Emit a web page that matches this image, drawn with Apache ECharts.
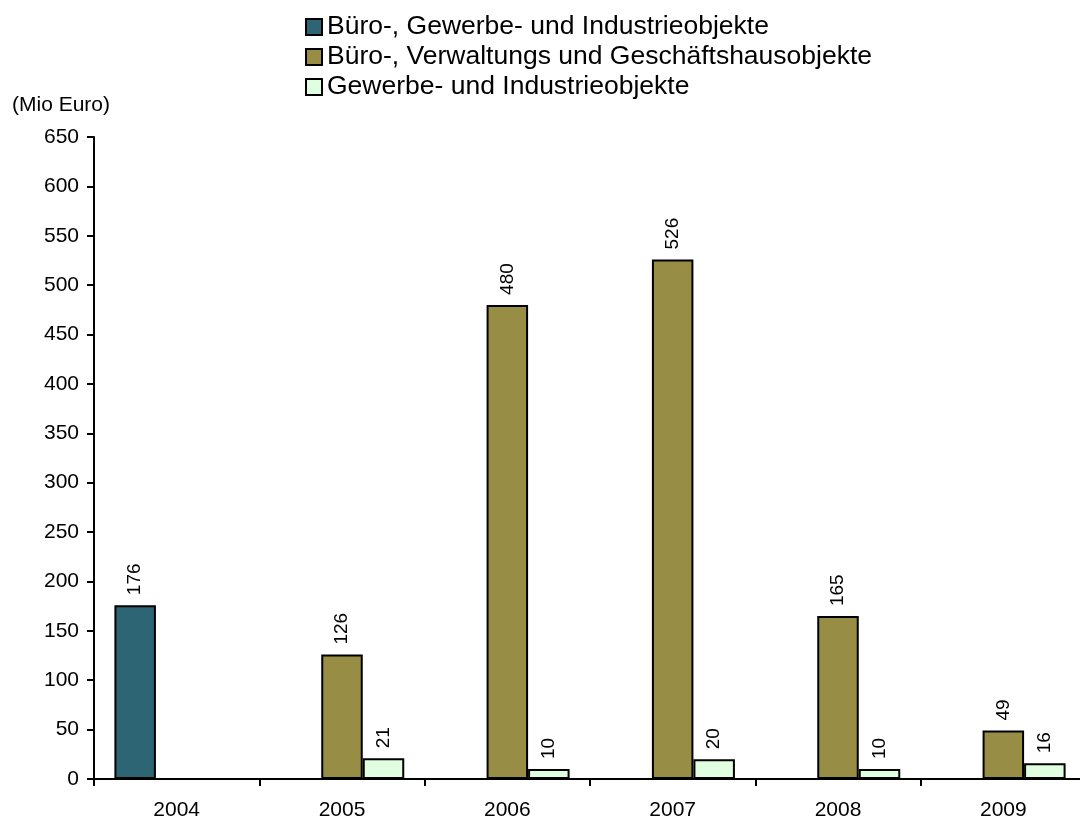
<!DOCTYPE html>
<html>
<head>
<meta charset="utf-8">
<script src="https://cdn.jsdelivr.net/npm/echarts@6/dist/echarts.min.js"></script>
<style>
  html, body { margin: 0; padding: 0; background: #ffffff; }
  #chart { width: 1080px; height: 818px; }
</style>
</head>
<body>
<div id="chart"></div>
<script>
// Investment volume by object type, in million euro
const years = ['2004', '2005', '2006', '2007', '2008', '2009'];
const seriesNames = [
  'Büro-, Gewerbe- und Industrieobjekte',
  'Büro-, Verwaltungs und Geschäftshausobjekte',
  'Gewerbe- und Industrieobjekte'
];
const bueroGewerbe = [176, null, null, null, null, null];
const bueroVerwaltung = [null, 126, 480, 526, 165, 49];
const gewerbeIndustrie = [null, 21, 10, 20, 10, 16];
const colors = ['#2D6575', '#978D45', '#E0FFE0'];

const FONT = 'Liberation Sans, Arial, sans-serif';
const chart = echarts.init(document.getElementById('chart'), null, { renderer: 'canvas' });

function barSeries(name, values, color) {
  return {
    name: name,
    type: 'bar',
    data: values,
    barWidth: 41.5,
    barGap: '0%',
    itemStyle: { color: color, borderColor: '#000000', borderWidth: 2 },
    label: {
      show: true,
      position: 'top',
      rotate: 90,
      align: 'left',
      verticalAlign: 'middle',
      distance: 10,
      color: '#000000',
      fontFamily: FONT,
      fontSize: 19
    },
    emphasis: { disabled: true }
  };
}

chart.setOption({
  animation: false,
  backgroundColor: '#ffffff',
  textStyle: { fontFamily: FONT },
  legend: {
    orient: 'vertical',
    left: 300,
    top: 7,
    itemWidth: 16,
    itemHeight: 16,
    itemGap: 0,
    itemTextGap: 4,
    icon: 'rect',
    itemStyle: { borderColor: '#000000', borderWidth: 2 },
    textStyle: { fontFamily: FONT, fontSize: 26.5, lineHeight: 30, color: '#000000' },
    data: seriesNames
  },
  graphic: [{
    type: 'text',
    left: 12,
    top: 95,
    style: { text: '(Mio Euro)', font: '21px ' + FONT, fill: '#000000' }
  }],
  grid: { left: 94, top: 137, width: 992, height: 642, containLabel: false, outerBoundsMode: 'none' },
  xAxis: {
    type: 'category',
    data: years,
    boundaryGap: true,
    axisLine: { lineStyle: { color: '#000000', width: 2 } },
    axisTick: { show: true, length: 7, inside: false, lineStyle: { color: '#000000', width: 2 } },
    axisLabel: { color: '#000000', fontFamily: FONT, fontSize: 21, margin: 21 },
    splitLine: { show: false }
  },
  yAxis: {
    type: 'value',
    min: 0,
    max: 650,
    interval: 50,
    axisLine: { show: true, lineStyle: { color: '#000000', width: 2 } },
    axisTick: { show: true, length: 7, inside: false, lineStyle: { color: '#000000', width: 2 } },
    axisLabel: { color: '#000000', fontFamily: FONT, fontSize: 21, margin: 15 },
    splitLine: { show: false }
  },
  series: [
    barSeries(seriesNames[0], bueroGewerbe, colors[0]),
    barSeries(seriesNames[1], bueroVerwaltung, colors[1]),
    barSeries(seriesNames[2], gewerbeIndustrie, colors[2])
  ]
});
</script>
</body>
</html>
